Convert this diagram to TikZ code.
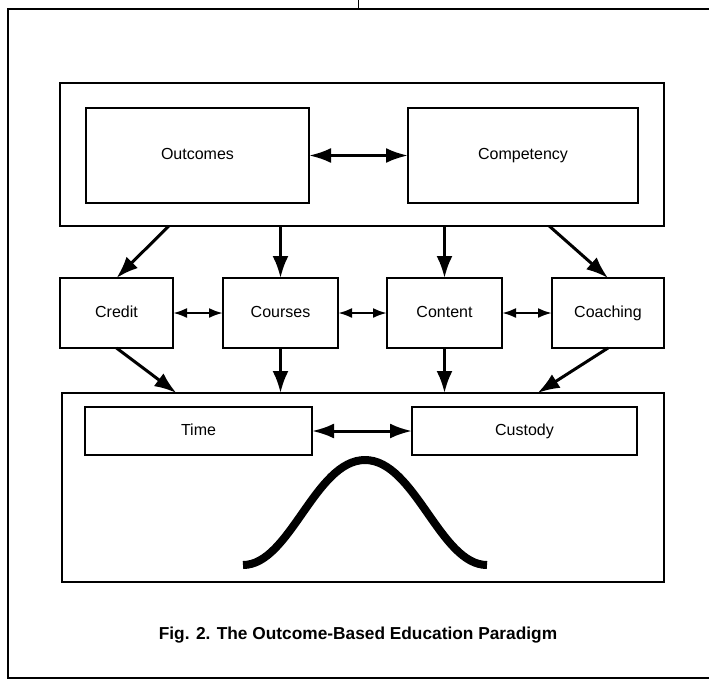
\documentclass[tikz,border=0pt]{standalone}
\usepackage{fontspec}
\setmainfont{Liberation Sans}
\usetikzlibrary{arrows.meta,positioning,calc}

\begin{document}
\begin{tikzpicture}[x=1pt, y=-1pt,
  frame/.style={draw, line width=2.4pt, inner sep=0pt, outer sep=0pt},
  box/.style={frame, align=center, text height=11.5pt, text depth=3.5pt, font=\fontsize{16}{18}\selectfont},
  flow/.style={-{Latex[length=22pt,width=16pt]}, line width=3pt},
  link/.style={{Latex[length=22pt,width=15pt]}-{Latex[length=22pt,width=15pt]}, line width=3pt},
  smalllink/.style={{Latex[length=14pt,width=10pt]}-{Latex[length=14pt,width=10pt]}, line width=2.4pt}]
  \useasboundingbox (0,0) rectangle (709,681);
  % page frame
  \draw[line width=1.5pt] (709,9) -- (8,9) -- (8,678) -- (709,678);
  \draw[line width=1pt] (358,0) -- (358,9);
  % top level
  \node[frame, minimum width=604pt, minimum height=143pt] (upper) at (362,154.5) {};
  \node[box, minimum width=223pt, minimum height=95pt] (outcomes) at (197.5,155.5) {Outcomes};
  \node[box, minimum width=230pt, minimum height=95pt] (competency) at (523,155.5) {Competency};
  \draw[link] (outcomes.east) -- (competency.west);
  % middle row
  \node[box, minimum width=113pt, minimum height=70pt] (credit) at (116.5,313) {Credit};
  \node[box, minimum width=115pt, minimum height=70pt] (courses) at (280.5,313) {Courses};
  \node[box, minimum width=115pt, minimum height=70pt] (content) at (444.5,313) {Content};
  \node[box, minimum width=112pt, minimum height=70pt] (coaching) at (608,313) {Coaching};
  \draw[smalllink] (credit.east) -- (courses.west);
  \draw[smalllink] (courses.east) -- (content.west);
  \draw[smalllink] (content.east) -- (coaching.west);
  % bottom level
  \node[frame, minimum width=602pt, minimum height=189pt] (lower) at (363,487.5) {};
  \node[box, minimum width=227pt, minimum height=48pt] (time) at (198.5,431) {Time};
  \node[box, minimum width=225pt, minimum height=48pt] (custody) at (524.5,431) {Custody};
  \draw[link] (time.east) -- (custody.west);
  % arrows down from the top
  \draw[flow] ($(upper.south west)!0.18!(upper.south east)$) -- (credit.north);
  \draw[flow] (courses.north |- upper.south) -- (courses.north);
  \draw[flow] (content.north |- upper.south) -- (content.north);
  \draw[flow] ($(upper.south west)!0.81!(upper.south east)$) -- (coaching.north);
  % arrows down to the bottom
  \draw[flow] (credit.south) -- ($(lower.north west)!0.19!(lower.north east)$);
  \draw[flow] (courses.south) -- (courses.south |- lower.north);
  \draw[flow] (content.south) -- (content.south |- lower.north);
  \draw[flow] (coaching.south) -- ($(lower.north west)!0.79!(lower.north east)$);
  % bell curve
  \draw[line width=8pt, line cap=butt] (243,565) .. controls (290,565) and (315,460) .. (365,460)
    .. controls (415,460) and (440,565) .. (487,565);
  % caption
  \node[font=\fontsize{17.3}{20}\selectfont\bfseries] (caption) at (358,635) {Fig. 2. The Outcome-Based Education Paradigm};
\end{tikzpicture}
\end{document}
